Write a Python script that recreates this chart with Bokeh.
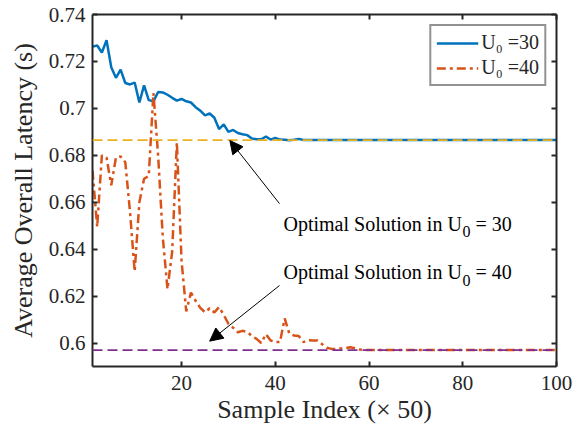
from bokeh.plotting import figure
from bokeh.models import (Range1d, LinearAxis, FixedTicker, Span, Arrow,
                          NormalHead, Label, Legend, LegendItem)
from bokeh.embed import file_html
from bokeh.resources import INLINE

# ---------------- data ----------------
sample_index = list(range(1, 101))

latency_u30 = [
    0.7263, 0.7268, 0.7238, 0.7290, 0.7175, 0.7130, 0.7165, 0.7108, 0.7102, 0.7110,
    0.7025, 0.7098, 0.7035, 0.7030, 0.7070, 0.7068, 0.7058, 0.7045, 0.7033, 0.7040,
    0.7030, 0.7025, 0.7005, 0.6990, 0.6970, 0.6978, 0.6960, 0.6912, 0.6932, 0.6900,
    0.6908, 0.6895, 0.6890, 0.6886, 0.6872, 0.6868, 0.6868, 0.6880, 0.6867, 0.6874,
    0.6867, 0.6866, 0.6864, 0.6866, 0.6870, 0.6865, 0.6865, 0.6865, 0.6865, 0.6865,
    0.6865, 0.6865, 0.6865, 0.6865, 0.6865, 0.6865, 0.6865, 0.6865, 0.6865, 0.6865,
    0.6865, 0.6865, 0.6865, 0.6865, 0.6865, 0.6865, 0.6865, 0.6865, 0.6865, 0.6865,
    0.6865, 0.6865, 0.6865, 0.6865, 0.6865, 0.6865, 0.6865, 0.6865, 0.6865, 0.6865,
    0.6865, 0.6865, 0.6865, 0.6865, 0.6865, 0.6865, 0.6865, 0.6865, 0.6865, 0.6865,
    0.6865, 0.6865, 0.6865, 0.6865, 0.6865, 0.6865, 0.6865, 0.6865, 0.6865, 0.6865,
]

latency_u40 = [
    0.6735, 0.6495, 0.6800, 0.6790, 0.6672, 0.6790, 0.6795, 0.6770, 0.6560, 0.6305,
    0.6600, 0.6700, 0.6712, 0.7065, 0.6800, 0.6450, 0.6230, 0.6390, 0.6855, 0.6350,
    0.6135, 0.6215, 0.6180, 0.6150, 0.6131, 0.6148, 0.6130, 0.6153, 0.6120, 0.6082,
    0.6065, 0.6046, 0.6052, 0.6048, 0.6030, 0.6018, 0.6000, 0.6038, 0.6011, 0.6004,
    0.6004, 0.6105, 0.6040, 0.6032, 0.6030, 0.6004, 0.6012, 0.6011, 0.6011, 0.5995,
    0.5980, 0.5975, 0.5975, 0.5977, 0.5978, 0.5982, 0.5978, 0.5972, 0.5970, 0.5970,
    0.5970, 0.5970, 0.5970, 0.5970, 0.5970, 0.5970, 0.5970, 0.5970, 0.5970, 0.5970,
    0.5970, 0.5970, 0.5970, 0.5970, 0.5970, 0.5970, 0.5970, 0.5970, 0.5970, 0.5970,
    0.5970, 0.5970, 0.5970, 0.5970, 0.5970, 0.5970, 0.5970, 0.5970, 0.5970, 0.5970,
    0.5970, 0.5970, 0.5970, 0.5970, 0.5970, 0.5970, 0.5970, 0.5970, 0.5970, 0.5970,
]

optimal_u30 = 0.6865
optimal_u40 = 0.5970

x_ticks = [20, 40, 60, 80, 100]
y_ticks = [0.60, 0.62, 0.64, 0.66, 0.68, 0.70, 0.72, 0.74]
y_tick_labels = ["0.6", "0.62", "0.64", "0.66", "0.68", "0.7", "0.72", "0.74"]
legend_labels = ["U\u2080 =30", "U\u2080 =40"]
x_label = "Sample Index (\u00d7 50)"
y_label = "Average Overall Latency (s)"
note_main = "Optimal Solution in U"
note_sub = "0"
note_tails = ["= 30", "= 40"]

# ---------------- figure ----------------
SERIF = "Liberation Serif"
AXC = "#262626"

p = figure(frame_width=464, frame_height=352,
           min_border_left=92, min_border_right=24,
           min_border_top=14, min_border_bottom=65,
           x_range=Range1d(1, 100), y_range=Range1d(0.59, 0.74),
           output_backend="svg", toolbar_location=None,
           background_fill_color="white", border_fill_color="white")
p.grid.visible = False
p.outline_line_color = None

p.add_layout(LinearAxis(), "above")
p.add_layout(LinearAxis(), "right")

for ax in p.xaxis:
    ax.ticker = FixedTicker(ticks=x_ticks)
for ax in p.yaxis:
    ax.ticker = FixedTicker(ticks=y_ticks)

for ax in p.axis:
    ax.axis_line_width = 2
    ax.axis_line_color = AXC
    ax.major_tick_line_color = AXC
    ax.major_tick_line_width = 2
    ax.major_tick_in = 5
    ax.major_tick_out = 0
    ax.minor_tick_line_color = None
    ax.major_label_text_font = SERIF
    ax.major_label_text_font_size = "21px"
    ax.major_label_text_color = AXC
    ax.axis_label_text_font = SERIF
    ax.axis_label_text_font_size = "26px"
    ax.axis_label_text_font_style = "normal"
    ax.axis_label_text_color = AXC

p.left[0].major_label_overrides = {t: l for t, l in zip(y_ticks, y_tick_labels)}
p.right[0].major_label_overrides = {t: "" for t in y_ticks}
p.above[0].major_label_overrides = {t: "" for t in x_ticks}
for ax in (p.above[0], p.right[0]):
    ax.major_label_standoff = 0

p.below[0].axis_label = x_label
p.below[0].major_label_standoff = 9
p.below[0].axis_label_standoff = 2
p.left[0].axis_label = y_label
p.left[0].major_label_standoff = 7
p.left[0].axis_label_standoff = 8

# ---------------- series ----------------
r30 = p.line(sample_index, latency_u30, line_color="#0072BD", line_width=2.5)
r40 = p.line(sample_index, latency_u40, line_color="#D95319", line_width=2.5,
             line_dash="9 4 3 4")

p.add_layout(Span(location=optimal_u30, dimension="width", line_color="#EDB120",
                  line_width=1.8, line_dash="10 5"))
p.add_layout(Span(location=optimal_u40, dimension="width", line_color="#7E2F8E",
                  line_width=1.8, line_dash="10 5"))

# ---------------- annotations ----------------
arrows = [((40.9, 0.6594), (30.3, 0.6863)), ((40.9, 0.6245), (26.0, 0.6008))]
for (xs, ys), (xe, ye) in arrows:
    p.add_layout(Arrow(end=NormalHead(size=13, fill_color="black", line_color="black",
                                      line_width=1),
                       x_start=xs, y_start=ys, x_end=xe, y_end=ye,
                       line_color="black", line_width=1))

note_x = 41.75
note_ys = [0.6508, 0.6302]
for ny, tail in zip(note_ys, note_tails):
    p.add_layout(Label(x=note_x, y=ny, text=note_main, text_font=SERIF,
                       text_font_size="20px", text_color="black",
                       text_baseline="alphabetic"))
    p.add_layout(Label(x=note_x, y=ny, x_offset=179, y_offset=-8, text=note_sub,
                       text_font=SERIF, text_font_size="16px", text_color="black",
                       text_baseline="alphabetic"))
    p.add_layout(Label(x=note_x, y=ny, x_offset=192, text=tail, text_font=SERIF,
                       text_font_size="20px", text_color="black",
                       text_baseline="alphabetic"))

legend = Legend(items=[LegendItem(label=legend_labels[0], renderers=[r30]),
                       LegendItem(label=legend_labels[1], renderers=[r40])],
                location="top_right", margin=10, padding=5, spacing=2,
                glyph_width=42, glyph_height=22, label_height=22,
                label_standoff=3,
                label_text_font=SERIF, label_text_font_size="20px",
                label_text_color=AXC,
                border_line_color="#262626", border_line_width=2,
                background_fill_color="white", background_fill_alpha=1)
p.add_layout(legend)

open("out.html", "w").write(file_html(p, INLINE))
